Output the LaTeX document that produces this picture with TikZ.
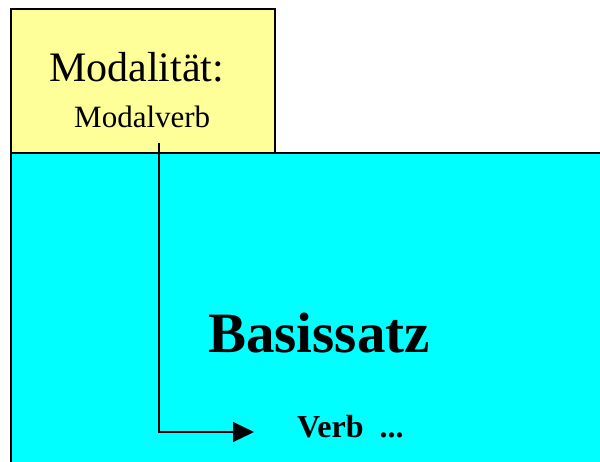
\documentclass[tikz,border=0pt]{standalone}
\usepackage{fontspec}
\setmainfont{Liberation Serif}
\usetikzlibrary{arrows.meta}
\definecolor{modalgelb}{RGB}{255,255,153}
\definecolor{basiscyan}{RGB}{0,255,255}
\tikzset{
  kasten/.style={draw=black,line width=1.5pt},
  txt/.style={inner sep=0pt,anchor=base west},
}
\begin{document}
\begin{tikzpicture}[x=1pt,y=-1pt,>={Triangle[length=21pt,width=20pt]}]
\useasboundingbox (0,0) rectangle (600,461);
% Kaesten
\draw [kasten,fill=modalgelb] (11,9) rectangle (275,153);
\draw [kasten,fill=basiscyan] (11,153) rectangle (604,465);
% Beschriftung
\node[txt] (modal) at (49,81) {\fontsize{42}{48}\selectfont Modalität:};
\node[txt] (mverb) at (74,127) {\fontsize{31}{36}\selectfont Modalverb};
\node[txt] (basis) at (208,352) {\fontsize{57}{64}\selectfont\bfseries Basissatz};
\node[txt] (verb) at (297,437) {\fontsize{32}{38}\selectfont\bfseries Verb~~...};
% Pfeil vom Modalverb zum Verb
\coordinate (von) at (159,143);
\coordinate (bis) at (254,432);
\draw [->,line width=1.2pt] (von) |- (bis);
\end{tikzpicture}
\end{document}
